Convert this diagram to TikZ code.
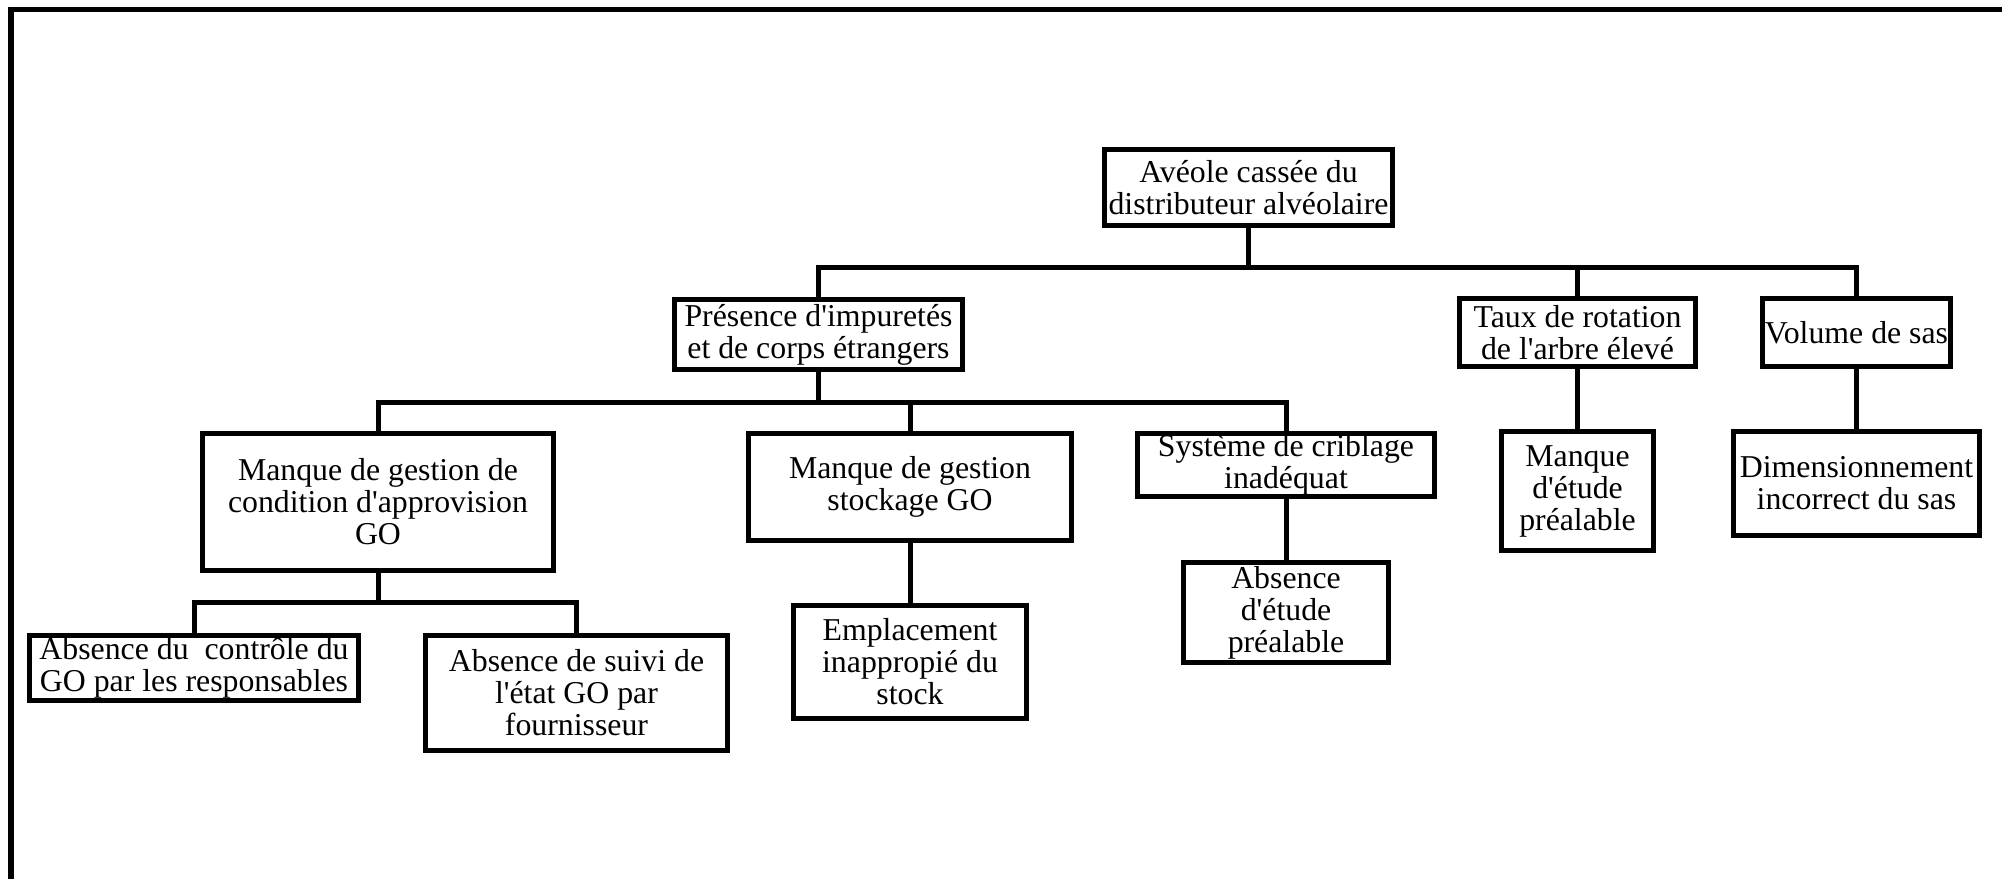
\documentclass[tikz,border=0pt]{standalone}
\usepackage{fontspec}
\setmainfont{Liberation Serif}
\newcommand\sq{\textquotesingle}
\begin{document}
\begin{tikzpicture}[x=1pt,y=-1pt,
  cbox/.style={draw, line width=5pt, rectangle, align=center, inner sep=0pt,
    font=\fontsize{31.8}{32}\selectfont},
  conn/.style={line width=5pt, line join=miter}]
\useasboundingbox (0,0) rectangle (2002,879);
% open frame
\draw[line width=5.5pt] (2002,9.5) -- (10.8,9.5) -- (10.8,879);
% boxes
\node[cbox, minimum width=288pt, minimum height=76pt] (root) at (1248.5,187.5) {Avéole cassée du\\distributeur alvéolaire};
\node[cbox, minimum width=288pt, minimum height=70pt] (pres) at (818.5,334.5) {Présence d\sq impuretés\\et de corps étrangers};
\node[cbox, minimum width=236pt, minimum height=68pt] (taux) at (1577.5,332.5) {Taux de rotation\\de l\sq arbre élevé};
\node[cbox, minimum width=188pt, minimum height=68pt] (vol) at (1856.5,332.5) {Volume de sas};
\node[cbox, minimum width=351pt, minimum height=137pt] (cond) at (378,502) {Manque de gestion de\\condition d\sq approvision\\GO};
\node[cbox, minimum width=323pt, minimum height=107pt] (stock) at (910,487) {Manque de gestion\\stockage GO};
\node[cbox, minimum width=297pt, minimum height=63pt] (crib) at (1286,465) {Système de criblage\\inadéquat};
\node[cbox, minimum width=152pt, minimum height=119pt] (etude) at (1577.5,491) {Manque\\d\sq étude\\préalable};
\node[cbox, minimum width=246pt, minimum height=104pt] (dim) at (1856.5,483.5) {Dimensionnement\\incorrect du sas};
\node[cbox, minimum width=329pt, minimum height=65pt] (ctrl) at (194,668) {Absence du\ \ contrôle du\\GO par les responsables};
\node[cbox, minimum width=302pt, minimum height=115pt] (suivi) at (576.5,693) {Absence de suivi de\\l\sq état GO par\\fournisseur};
\node[cbox, minimum width=233pt, minimum height=113pt] (empl) at (910,662) {Emplacement\\inappropié du\\stock};
\node[cbox, minimum width=205pt, minimum height=100pt] (abs) at (1286,612.5) {Absence\\d\sq étude\\préalable};
% bar levels
\coordinate (b1) at (0,267);
\coordinate (b2) at (0,402);
\coordinate (b3) at (0,602);
% level 1
\draw[conn] (pres.north) -- (pres.north |- b1) -- (vol.north |- b1) -- (vol.north);
\draw[conn] (root.south) -- (root.south |- b1);
\draw[conn] (taux.north) -- (taux.north |- b1);
% level 2
\draw[conn] (cond.north) -- (cond.north |- b2) -- (crib.north |- b2) -- (crib.north);
\draw[conn] (pres.south) -- (pres.south |- b2);
\draw[conn] (stock.north) -- (stock.north |- b2);
% level 3
\draw[conn] (ctrl.north) -- (ctrl.north |- b3) -- (suivi.north |- b3) -- (suivi.north);
\draw[conn] (cond.south) -- (cond.south |- b3);
% direct links
\draw[conn] (stock.south) -- (empl.north);
\draw[conn] (crib.south) -- (abs.north);
\draw[conn] (taux.south) -- (etude.north);
\draw[conn] (vol.south) -- (dim.north);
\end{tikzpicture}
\end{document}
